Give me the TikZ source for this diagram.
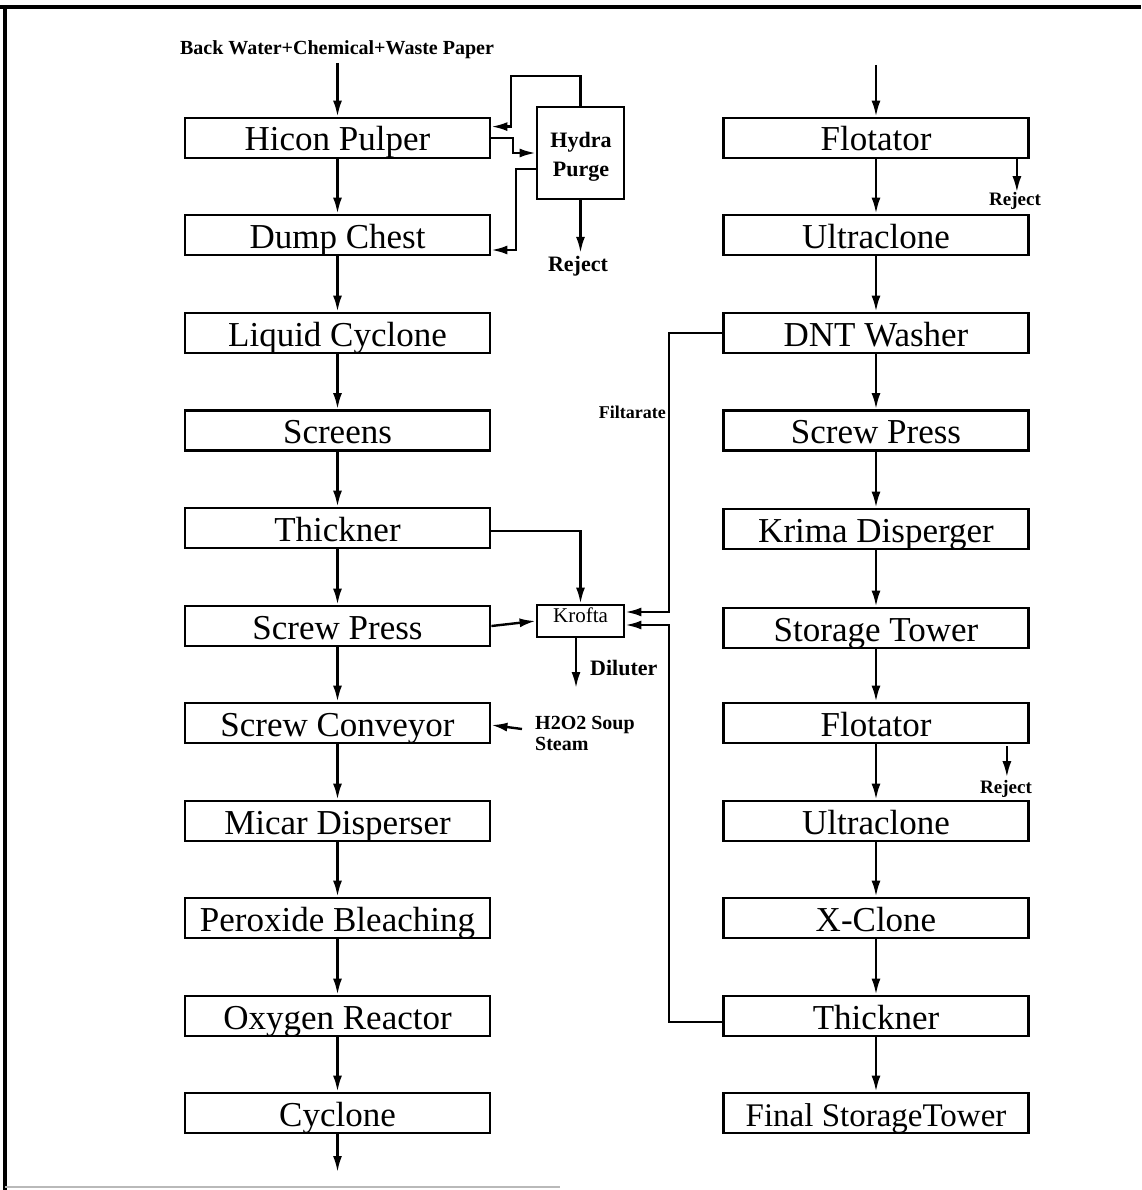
\documentclass[tikz,border=0pt]{standalone}
\usepackage{fontspec}
\setmainfont{Liberation Serif}
\usetikzlibrary{arrows.meta,calc}
\begin{document}
\begin{tikzpicture}[x=1pt,y=-1pt,
  box/.style={draw,line width=2.8pt,rectangle,minimum width=305pt,minimum height=40pt,inner sep=0pt,text height=26pt,text depth=0pt,font=\fontsize{35}{40}\selectfont},
  sbox/.style={draw,line width=2.8pt,rectangle,inner sep=0pt},
  arr/.style={line width=2.4pt,-{Latex[length=16pt,width=9pt]}},
  lbl/.style={inner sep=0pt,font=\fontsize{20}{21}\selectfont\bfseries}
]
\useasboundingbox (0,0) rectangle (1141,1190);
% frame
\draw[line width=4pt] (0,7) -- (1141,7);
\draw[line width=4pt] (5,7) -- (5,1190);
\draw[gray!55,line width=1.5pt] (5,1187) -- (560,1187);

% left column
\node[box] (hicon)  at (337.5,138)  {Hicon Pulper};
\node[box] (dump)   at (337.5,235)  {Dump Chest};
\node[box] (liq)    at (337.5,333)  {Liquid Cyclone};
\node[box] (scr)    at (337.5,430.5){Screens};
\node[box] (thick)  at (337.5,528)  {Thickner};
\node[box] (spress) at (337.5,626)  {Screw Press};
\node[box] (sconv)  at (337.5,723)  {Screw Conveyor};
\node[box] (micar)  at (337.5,821)  {Micar Disperser};
\node[box] (perox)  at (337.5,918)  {Peroxide Bleaching};
\node[box] (oxy)    at (337.5,1016) {Oxygen Reactor};
\node[box] (cyc)    at (337.5,1113) {Cyclone};

% right column
\node[box] (flot1)  at (876,138)  {Flotator};
\node[box] (ultra1) at (876,235)  {Ultraclone};
\node[box] (dnt)    at (876,333)  {DNT Washer};
\node[box] (rspress)at (876,430.5){Screw Press};
\node[box] (krima)  at (876,529)  {Krima Disperger};
\node[box] (stor)   at (876,628)  {Storage Tower};
\node[box] (flot2)  at (876,723)  {Flotator};
\node[box] (ultra2) at (876,821)  {Ultraclone};
\node[box] (xclone) at (876,918)  {X-Clone};
\node[box] (rthick) at (876,1016) {Thickner};
\node[box,font=\fontsize{33}{38}\selectfont] (final) at (876,1113) {Final StorageTower};

% side units
\node[sbox,minimum width=87pt,minimum height=92pt] (hydra) at (580.5,153) {};
\node[lbl,align=center,font=\fontsize{22}{29}\selectfont\bfseries] (hydratxt) at (581,157) {Hydra\\Purge};
\node[sbox,minimum width=87pt,minimum height=32pt,text height=14pt,text depth=12pt,font=\fontsize{21}{22}\selectfont] (krofta) at (580.5,621) {Krofta};

% labels
\node[lbl] (top) at (337,50) {Back Water+Chemical+Waste Paper};
\node[lbl,font=\fontsize{22}{24}\selectfont\bfseries] (rej1) at (578,266) {Reject};
\node[lbl,font=\fontsize{19}{20}\selectfont\bfseries] (rej2) at (1015,201) {Reject};
\node[lbl,font=\fontsize{19}{20}\selectfont\bfseries] (rej3) at (1006,789) {Reject};
\node[lbl,font=\fontsize{18}{20}\selectfont\bfseries,anchor=east] (filt) at (666,412) {Filtarate};
\node[lbl,font=\fontsize{22}{24}\selectfont\bfseries,anchor=west] (dil) at (590,668) {Diluter};
\node[lbl,anchor=west,align=left] (h2o2) at (535,733) {H2O2 Soup\\Steam};

\coordinate (inL) at (337.5,63);
\coordinate (inR) at (876,65);
\coordinate (outL) at (337.5,1172);
\coordinate (dilend) at (576,688);
\coordinate (h2in) at (522,729);

% main left chain
\draw[arr] (inL) -- (hicon.north);
\draw[arr] (hicon) -- (dump);
\draw[arr] (dump) -- (liq);
\draw[arr] (liq) -- (scr);
\draw[arr] (scr) -- (thick);
\draw[arr] (thick) -- (spress);
\draw[arr] (spress) -- (sconv);
\draw[arr] (sconv) -- (micar);
\draw[arr] (micar) -- (perox);
\draw[arr] (perox) -- (oxy);
\draw[arr] (oxy) -- (cyc);
\draw[arr] (cyc.south) -- (outL);

% main right chain
\draw[arr] (inR) -- (flot1.north);
\draw[arr] (flot1) -- (ultra1);
\draw[arr] (ultra1) -- (dnt);
\draw[arr] (dnt) -- (rspress);
\draw[arr] (rspress) -- (krima);
\draw[arr] (krima) -- (stor);
\draw[arr] (stor) -- (flot2);
\draw[arr] (flot2) -- (ultra2);
\draw[arr] (ultra2) -- (xclone);
\draw[arr] (xclone) -- (rthick);
\draw[arr] (rthick) -- (final);

% rejects
\coordinate (r2s) at ($(flot1.south east)+(-13,0)$);
\draw[arr] (r2s) -- (r2s |- rej2.north);
\coordinate (r3s) at ($(flot2.south east)+(-23,2)$);
\draw[arr] (r3s) -- ($(r3s |- rej3.north)+(0,-3)$);

% Hydra purge loops
\draw[arr] (hydra.north) |- (511,76) |- ($(hicon.north east)+(0,10)$);
\draw[arr] (hicon.east) -| (513,153) -- (hydra.west);
\draw[arr] ($(hydra.west)+(0,16)$) -| (516,250) -- ($(dump.east)+(0,15)$);
\draw[arr] (hydra.south) -- ($(hydra.south |- rej1.north)+(0,-3)$);

% Krofta
\draw[arr] ($(thick.east)+(0,3)$) -| (krofta.north);
\draw[arr] (spress.east) -- (krofta.west);
\draw[arr] (dnt.west) -| (669,612) -- ($(krofta.east)+(0,-9)$);
\draw[arr] ($(rthick.west)+(0,6)$) -| (669,625) -- ($(krofta.east)+(0,4)$);
\draw[arr] ($(krofta.south)+(-4.5,0)$) -- (dilend);
\draw[arr] (h2in) -- ($(sconv.east)+(0,2)$);
\end{tikzpicture}
\end{document}
